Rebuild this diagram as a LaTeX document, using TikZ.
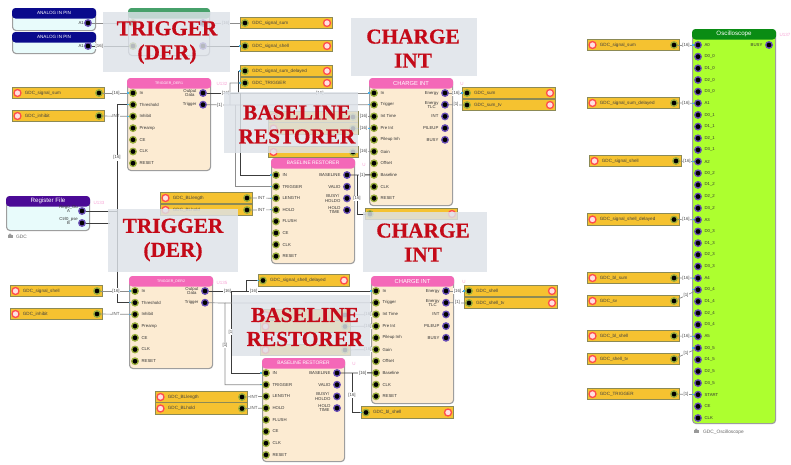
\documentclass[tikz,border=0pt]{standalone}
\usepackage{fontspec}
\setmainfont{Liberation Sans}
\newfontfamily\bigserif[FakeBold=0.5]{Liberation Serif}
\definecolor{barfill}{HTML}{F5C230}
\definecolor{barline}{HTML}{8C8A55}
\definecolor{ringin}{HTML}{9AAE3C}
\definecolor{ringout}{HTML}{6B50B8}
\definecolor{peach}{HTML}{FCEBD2}
\definecolor{pinkhead}{HTML}{F468B8}
\definecolor{navyhead}{HTML}{0A0A8C}
\definecolor{purplehead}{HTML}{4B0A96}
\definecolor{greenhead}{HTML}{46A06A}
\definecolor{oschead}{HTML}{0A8C14}
\definecolor{oscbody}{HTML}{ADFF2F}
\definecolor{palecyan}{HTML}{E8FBFB}
\definecolor{overlayc}{HTML}{DDE2E9}
\definecolor{bigred}{HTML}{C40A18}
\definecolor{tickc}{HTML}{45B0E8}
\definecolor{wirec}{HTML}{3C3C3C}
\tikzset{
  blockbox/.style={draw=black!38,line width=1.1pt,rounded corners=3.5pt,inner sep=0pt,anchor=north west},
  headtxt/.style={text=white,inner sep=0pt},
  plabel/.style={text=black!80,font=\fontsize{4.3}{4.3}\selectfont,inner sep=0pt,align=center},
  barlabel/.style={text=black!75,font=\fontsize{4.6}{5}\selectfont,inner sep=0pt,anchor=west},
  portin/.style={circle,fill=black,draw=ringin,line width=1.3pt,minimum size=6.5pt,inner sep=0pt},
  portout/.style={circle,fill=black,draw=ringout,line width=1.3pt,minimum size=6.5pt,inner sep=0pt},
  sigcirc/.style={circle,fill=red!12,draw=red!70!white,line width=1.3pt,minimum size=7pt,inner sep=0pt},
  sigbox/.style={draw=barline,fill=barfill,line width=1pt,minimum height=11.5pt,inner sep=0pt,anchor=west},
  wire/.style={draw=wirec,line width=.9pt},
  lwire/.style={draw=black!45,line width=.7pt},
  wl/.style={fill=white,text=black!70,font=\fontsize{4.4}{5}\selectfont,inner sep=.6pt},
  refl/.style={text=magenta!35,font=\fontsize{4.5}{5}\selectfont,inner sep=0pt},
  veil/.style={fill=overlayc,fill opacity=.82,draw=none,inner sep=0pt,anchor=north west},
  bigtxt/.style={text=bigred,font=\bigserif\bfseries\fontsize{21.3}{24}\selectfont,align=center,inner sep=0pt},
  tickmark/.style={draw=tickc,line width=1.2pt},
}
\newcommand\hsz[1]{\fontsize{#1}{#1}\selectfont}
% name x1 y1 x2 y2 body head title
\newcommand\blockd[8]{%
  \pgfmathsetmacro\bw{#4-#2}\pgfmathsetmacro\bh{#5-#3}%
  \node[blockbox,fill=#6,minimum width=\bw pt,minimum height=\bh pt] (#1) at (#2,#3) {};
  \fill[#7,rounded corners=3.5pt] (#1.north west) -- (#1.north east) -- ([yshift=-10.5pt]#1.north east) -- ([yshift=-10.5pt]#1.north west) -- cycle;
  \node[headtxt] (#1-t) at ([yshift=-5.2pt]#1.north) {#8};}
% prefix x y0 dy style list
\newcommand\portsl[6]{%
  \foreach \l [count=\i] in {#6} {
    \node[#5] (#1-\i) at ({#2},{#3+(\i-1)*#4}) {};
    \node[plabel,anchor=west] (#1-\i-l) at ([xshift=2.5pt]#1-\i.east) {\l};
  }}
\newcommand\portsr[6]{%
  \foreach \l [count=\i] in {#6} {
    \node[#5] (#1-\i) at ({#2},{#3+(\i-1)*#4}) {};
    \node[plabel,anchor=east] (#1-\i-l) at ([xshift=-2.5pt]#1-\i.west) {\l};
  }}
% bar with circle left, port right: name x y width text
\newcommand\barin[5]{%
  \node[sigbox,minimum width=#4pt] (#1) at (#2,#3) {};
  \node[sigcirc] (#1-c) at ([xshift=5.5pt]#1.west) {};
  \node[portin] (#1-p) at ([xshift=-6pt]#1.east) {};
  \node[barlabel] (#1-l) at ([xshift=3pt]#1-c.east) {#5};}
% bar with port left, circle right
\newcommand\barout[5]{%
  \node[sigbox,minimum width=#4pt] (#1) at (#2,#3) {};
  \node[portin] (#1-p) at ([xshift=5pt]#1.west) {};
  \node[sigcirc] (#1-c) at ([xshift=-6pt]#1.east) {};
  \node[barlabel] (#1-l) at ([xshift=3pt]#1-p.east) {#5};}
\newcommand\lockicon[1]{\fill[black!40] ([xshift=-2.5pt,yshift=-1pt]#1) rectangle ++(5pt,2.8pt);
  \draw[black!40,line width=.6pt] ([xshift=-1.3pt,yshift=1.8pt]#1) arc (180:0:1.3pt);}
\begin{document}
\begin{tikzpicture}[x=1pt,y=-1pt]
\useasboundingbox[fill=white] (0,0) rectangle (791,464);

% ---------- blocks ----------
\blockd{pinA}{12}{8}{95}{30}{palecyan}{navyhead}{\hsz{4.6}ANALOG IN PIN}
\node[portout] (pinA-p) at (88,23) {}; \node[plabel,anchor=east] (pinA-l) at (84,23) {A1};
\blockd{pinB}{12}{32}{95}{53}{palecyan}{navyhead}{\hsz{4.6}ANALOG IN PIN}
\node[portout] (pinB-p) at (88,46) {}; \node[plabel,anchor=east] (pinB-l) at (84,46) {A1};
\blockd{gr}{128}{8}{209}{55}{white}{greenhead}{}
\node[portin] (gr-a) at (133,23) {}; \node[portin] (gr-b) at (133,46) {};
\node[portout] (gr-c) at (203,23) {}; \node[portout] (gr-d) at (203,46) {};

\blockd{regf}{6}{196}{89}{230}{palecyan}{purplehead}{\hsz{6.2}Register File}
\node[portout] (reg-a) at (82,211) {}; \node[plabel,anchor=east] (reg-al) at (78,209) {Reg0\_Ou\\[-.5pt]A};
\node[portout] (reg-b) at (82,223) {}; \node[plabel,anchor=east] (reg-bl) at (78,221) {Ctrl0\_pse\\[-.5pt]B};
\node[text=black!60,font=\fontsize{4.8}{5}\selectfont,inner sep=0pt,anchor=west] (gdc) at (16,237) {GDC};
\lockicon{10,237}

\blockd{tr1}{127}{78}{210}{170}{peach}{pinkhead}{\hsz{3.6}TRIGGER\_DER1}
\portsl{tr1L}{133}{93}{11.7}{portin}{In,Threshold,Inhibit,Preamp,CE,CLK,RESET}
\portsr{tr1R}{203}{93}{11.7}{portout}{{Output\\Data},Trigger}

\blockd{ch1}{369}{78}{452}{205}{peach}{pinkhead}{\hsz{5.8}CHARGE INT}
\portsl{ch1L}{374}{93}{11.7}{portin}{In,Trigger,Int Time,Pre Int,Pileup Inh,Gain,Offset,Baseline,CLK,RESET}
\portsr{ch1R}{445}{93}{11.7}{portout}{Energy,{Energy\\TLC},INT,PILEUP,BUSY}

\blockd{bl1}{271}{158}{354}{263}{peach}{pinkhead}{\hsz{4.9}BASELINE RESTORER}
\portsl{bl1L}{276}{175}{11.6}{portin}{IN,TRIGGER,LENGTH,HOLD,FLUSH,CE,CLK,RESET}
\portsr{bl1R}{347}{175}{11.7}{portout}{BASELINE,VALID,{BUSY/\\HOLDO},{HOLD\\TIME}}

\blockd{tr2}{129}{276}{212}{368}{peach}{pinkhead}{\hsz{3.6}TRIGGER\_DER2}
\portsl{tr2L}{135}{291}{11.7}{portin}{In,Threshold,Inhibit,Preamp,CE,CLK,RESET}
\portsr{tr2R}{205}{291}{11.7}{portout}{{Output\\Data},Trigger}

\blockd{ch2}{371}{276}{453}{403}{peach}{pinkhead}{\hsz{5.8}CHARGE INT}
\portsl{ch2L}{376}{291}{11.7}{portin}{In,Trigger,Int Time,Pre Int,Pileup Inh,Gain,Offset,Baseline,CLK,RESET}
\portsr{ch2R}{446}{291}{11.7}{portout}{Energy,{Energy\\TLC},INT,PILEUP,BUSY}

\blockd{bl2}{262}{358}{344}{461}{peach}{pinkhead}{\hsz{4.9}BASELINE RESTORER}
\portsl{bl2L}{266}{373}{11.7}{portin}{IN,TRIGGER,LENGTH,HOLD,FLUSH,CE,CLK,RESET}
\portsr{bl2R}{337}{373}{11.7}{portout}{BASELINE,VALID,{BUSY/\\HOLDO},{HOLD\\TIME}}

\blockd{osc}{692}{29}{775}{423}{oscbody}{oschead}{\hsz{6.2}Oscilloscope}
\portsl{oscL}{698}{45}{11.656}{portout}{A0,D0\_0,D1\_0,D2\_0,D3\_0,A1,D0\_1,D1\_1,D2\_1,D3\_1,A2,D0\_2,D1\_2,D2\_2,D3\_2,A3,D0\_3,D1\_3,D2\_3,D3\_3,A4,D0\_4,D1\_4,D2\_4,D3\_4,A5,D0\_5,D1\_5,D2\_5,D3\_5,START,CE,CLK}
\portsr{oscR}{769}{45}{11.7}{portout}{BUSY}
\node[text=black!60,font=\fontsize{4.8}{5}\selectfont,inner sep=0pt,anchor=west] (oscname) at (703,432) {GDC\_Oscilloscope};
\lockicon{696,432}

% reference marks
\node[refl] (u1) at (222,84) {U132};
\node[refl] (u2) at (99,203) {U133};
\node[refl] (u3) at (222,283) {U135};
\node[refl] (u4) at (462,84) {U};
\node[refl] (u5) at (364,165) {U};
\node[refl] (u6) at (464,282) {U};
\node[refl] (u7) at (354,364) {U};
\node[refl] (u8) at (785,35) {U137};

% ---------- signal bars ----------
\barin{bInA}{12}{93}{92}{GDC\_signal\_sum}
\barin{bInB}{12}{116}{92}{GDC\_inhibit}
\barin{bInC}{10}{291}{92}{GDC\_signal\_shell}
\barin{bInD}{10}{314}{92}{GDC\_inhibit}
\barin{bLenA}{160}{198}{92}{GDC\_BLlength}
\barin{bHolA}{160}{210}{92}{GDC\_BLhold}
\barin{bLenB}{155}{397}{92}{GDC\_BLlength}
\barin{bHolB}{155}{408.5}{92}{GDC\_BLhold}

\barout{bOutA}{240}{23}{92}{GDC\_signal\_sum}
\barout{bOutB}{240}{46}{92}{GDC\_signal\_shell}
\barout{bOutC}{240}{71}{92}{GDC\_signal\_sum\_delayed}
\barout{bOutD}{240}{83}{92}{GDC\_TRIGGER}
\barout{bSumA}{462}{93}{93}{GDC\_sum}
\barout{bSumB}{462}{105}{93}{GDC\_sum\_tv}
\barout{bSumC}{464}{291}{93}{GDC\_shell}
\barout{bSumD}{464}{303}{93}{GDC\_shell\_tv}
\barout{bDelB}{258}{280.5}{91}{GDC\_signal\_shell\_delayed}
\barout{bBlA}{365}{214}{92}{}
\barout{bBlB}{361}{412.5}{92}{GDC\_bl\_shell}

% bars beneath the grey veils (their texts cannot be read)
\barin{vA}{268}{117}{90}{}
\barin{vB}{268}{128.5}{90}{}
\barin{vC}{268}{152}{90}{}
\barin{vD}{260}{315}{90}{}
\barin{vE}{260}{326.5}{90}{}
\barin{vF}{260}{350}{90}{}

% oscilloscope sources
\barin{sA}{587}{45}{92}{GDC\_signal\_sum}
\barin{sB}{587}{103}{92}{GDC\_signal\_sum\_delayed}
\barin{sC}{589}{161}{92}{GDC\_signal\_shell}
\barin{sD}{587}{219.5}{92}{GDC\_signal\_shell\_delayed}
\barin{sE}{587}{278}{92}{GDC\_bl\_sum}
\barin{sF}{587}{301}{92}{GDC\_sv}
\barin{sG}{587}{336}{92}{GDC\_bl\_shell}
\barin{sH}{587}{359}{92}{GDC\_shell\_tv}
\barin{sI}{587}{394}{92}{GDC\_TRIGGER}

% ---------- routing points ----------
\coordinate (j1) at (238,93);
\coordinate (j2) at (230,105);
\coordinate (j3) at (240,93);
\coordinate (j4) at (235,105);
\coordinate (j5) at (117,211);
\coordinate (j6) at (110,223);
\coordinate (j7) at (357,175);
\coordinate (j8) at (246,291);
\coordinate (j9) at (231,291);
\coordinate (j10) at (225,303);
\coordinate (j11) at (352,373);

% ---------- connectors ----------
\draw[lwire] (pinA-p) -- (gr-a);
\draw[lwire] (gr-c) -- node[wl,pos=.55]{[16]} (bOutA-p);
\draw[wire] (pinB-p) -- node[wl,pos=.2]{[16]} (gr-b);
\draw[wire] (gr-d) -- (bOutB-p);

\draw[lwire] (bInA-p) -- node[wl]{[16]} (tr1L-1);
\draw[lwire] (bInB-p) -- node[wl]{INT} (tr1L-3);
\draw[wire] (reg-a) -- (j5) |- node[wl,pos=.25]{[16]} (tr1L-2);
\draw[wire] (j5) |- (tr2L-2);
\draw[wire] (reg-b) -- (j6);

\draw[wire] (tr1R-1) -- node[wl,pos=.6]{[16]} (j1) |- (bOutC-p);
\draw[lwire] (tr1R-2) -- node[wl,pos=.55]{[1]} (j2) |- (bOutD-p);
\draw[lwire] (j1) -- node[wl,pos=.62]{[16]} (ch1L-1);
\draw[lwire] (j2) -- (ch1L-2);
\draw[wire] (j3) |- (bl1L-1);
\draw[lwire] (j4) |- (bl1L-2);
\draw[lwire] (bLenA-p) -- node[wl]{INT} (bl1L-3);
\draw[lwire] (bHolA-p) -- node[wl]{INT} (bl1L-4);
\draw[lwire] (vA-p) -- node[wl]{[16]} (ch1L-3);
\draw[lwire] (vB-p) -- node[wl]{[16]} (ch1L-4);
\draw[lwire] (vC-p) -- node[wl]{[16]} (ch1L-6);
\draw[wire] (bl1R-1) -- node[wl,pos=.6]{[1]} (ch1L-8);
\draw[wire] (j7) |- node[wl,pos=.3]{[16]} (bBlA-p);
\draw[lwire] (ch1R-1) -- node[wl]{[16]} (bSumA-p);
\draw[lwire] (ch1R-2) -- node[wl]{[1]} (bSumB-p);

\draw[lwire] (bInC-p) -- node[wl]{[16]} (tr2L-1);
\draw[lwire] (bInD-p) -- node[wl]{INT} (tr2L-3);
\draw[wire] (tr2R-1) -- node[wl,pos=.5]{[16]} (j8) |- (bDelB-p);
\draw[wire] (j8) -- node[wl,pos=.06]{[16]} (ch2L-1);
\draw[wire] (j9) |- node[wl,pos=.25]{[1]} (bl2L-1);
\draw[lwire] (tr2R-2) -- (j10) |- node[wl,pos=.26]{[1]} (bl2L-2);
\draw[lwire] (j10) -- (ch2L-2);
\draw[lwire] (bLenB-p) -- node[wl]{INT} (bl2L-3);
\draw[lwire] (bHolB-p) -- node[wl]{INT} (bl2L-4);
\draw[lwire] (vD-p) -- node[wl,pos=.82]{[16]} (ch2L-3);
\draw[lwire] (vE-p) -- node[wl,pos=.82]{[16]} (ch2L-4);
\draw[lwire] (vF-p) -- node[wl,pos=.82]{[16]} (ch2L-6);
\draw[wire] (bl2R-1) -- node[wl,pos=.7]{[16]} (ch2L-8);
\draw[wire] (j11) |- node[wl,pos=.28]{[16]} (bBlB-p);
\draw[lwire] (ch2R-1) -- node[wl]{[16]} (bSumC-p);
\draw[lwire] (ch2R-2) -- node[wl]{[1]} (bSumD-p);

\draw[lwire] (sA-p) -- node[wl]{[16]} (oscL-1);
\draw[lwire] (sB-p) -- node[wl]{[16]} (oscL-6);
\draw[lwire] (sC-p) -- node[wl]{[16]} (oscL-11);
\draw[lwire] (sD-p) -- node[wl]{[16]} (oscL-16);
\draw[lwire] (sE-p) -- node[wl]{[16]} (oscL-21);
\draw[lwire] (sF-p) -- node[wl]{[1]} (oscL-22);
\draw[lwire] (sG-p) -- node[wl]{[16]} (oscL-26);
\draw[lwire] (sH-p) -- node[wl]{[1]} (oscL-27);
\draw[lwire] (sI-p) -- node[wl]{[1]} (oscL-31);

% small blue marks where connectors reach a port
\foreach \n in {tr1L-1,tr1L-2,tr1L-3,ch1L-1,ch1L-2,ch1L-4,bl1L-1,bl1L-2,bl1L-3,bl1L-4,tr2L-1,tr2L-2,tr2L-3,ch2L-1,bl2L-1,bl2L-2,bOutB-p,bOutC-p,bOutD-p,bDelB-p,bBlB-p,bSumA-p,bSumC-p,oscL-1,oscL-6,oscL-11,oscL-16,oscL-21,oscL-22,oscL-26,oscL-27,oscL-31}
  {\draw[tickmark] (\n.west) -- ++(-2.5pt,0);}

% ---------- grey veils with titles ----------
\node[veil,minimum width=127pt,minimum height=60pt] (vTa) at (103,12) {};
\node[veil,minimum width=126pt,minimum height=58pt] (vCa) at (351,18) {};
\node[veil,minimum width=134pt,minimum height=61pt] (vBa) at (224,92) {};
\node[veil,minimum width=130pt,minimum height=63pt] (vTb) at (108,209) {};
\node[veil,minimum width=124pt,minimum height=60pt] (vCb) at (363,212) {};
\node[veil,minimum width=138pt,minimum height=61pt] (vBb) at (232,295) {};

\node[bigtxt] (tTa) at (167,42.5) {TRIGGER\\(DER)};
\node[bigtxt] (tCa) at (413,48.5) {CHARGE\\INT};
\node[bigtxt] (tBa) at (297,124.5) {BASELINE\\RESTORER};
\node[bigtxt] (tTb) at (173,240) {TRIGGER\\(DER)};
\node[bigtxt] (tCb) at (423,242.5) {CHARGE\\INT};
\node[bigtxt] (tBb) at (305,327) {BASELINE\\RESTORER};
\end{tikzpicture}
\end{document}
